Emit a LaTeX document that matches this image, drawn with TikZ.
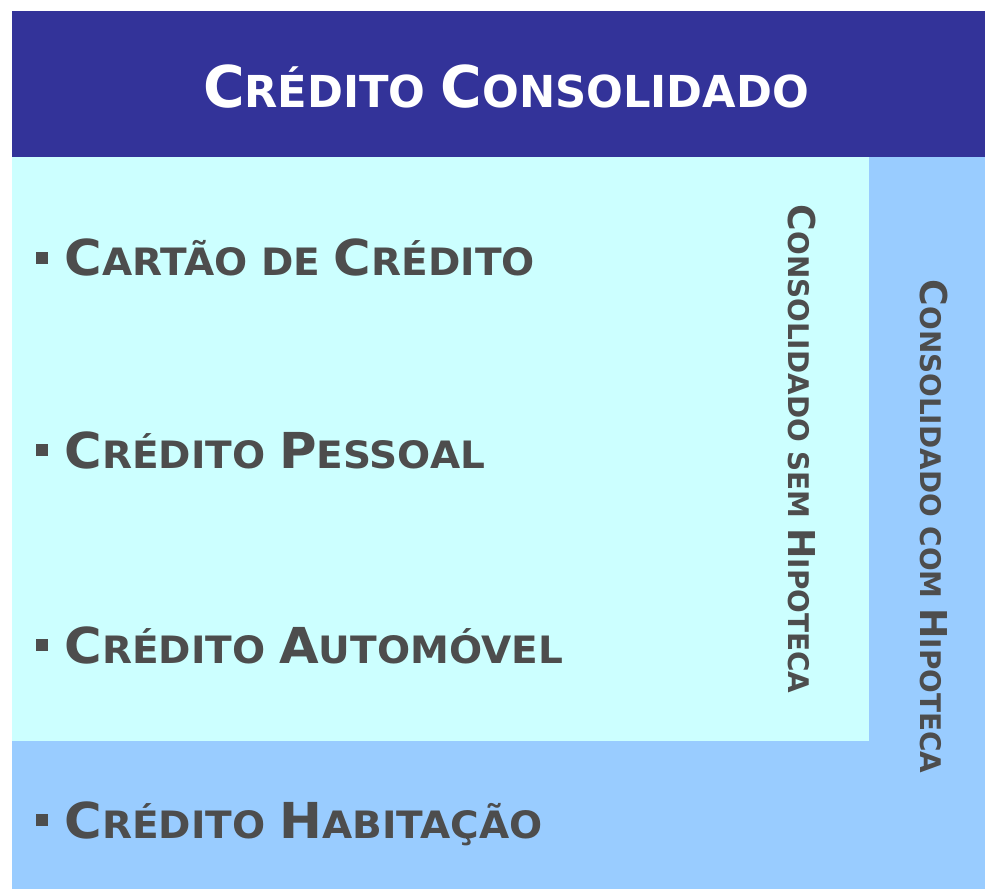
\documentclass[tikz,border=0pt]{standalone}
\usepackage{fontspec}
\usepackage{graphicx}
\setmainfont{DejaVu Sans}
\definecolor{hdr}{HTML}{333399}
\definecolor{cyanbg}{HTML}{CCFFFF}
\definecolor{bluebg}{HTML}{99CCFF}
\definecolor{txt}{HTML}{4D4D4D}
\newcommand\capL[1]{{\fontsize{49.5}{50}\selectfont #1}}
\newcommand\capS[1]{{\fontsize{37.7}{40}\selectfont #1}}
\newcommand\hL[1]{{\fontsize{57.6}{58}\selectfont #1}}
\newcommand\hS[1]{{\fontsize{44}{44}\selectfont #1}}
\newcommand\vL[1]{{\fontsize{37}{37}\selectfont #1}}
\newcommand\vS[1]{{\fontsize{28.4}{29}\selectfont #1}}
\newcommand\itemtxt[1]{\scalebox{1.035}[1]{#1}}
\tikzset{
  item/.style={anchor=base west, inner sep=0pt, text=txt, font=\bfseries\fontsize{37.7}{40}\selectfont},
  vlabel/.style={rotate=-90, anchor=base west, inner sep=0pt, text=txt, font=\bfseries\fontsize{28.4}{29}\selectfont},
  bulletsq/.style={fill=txt, minimum size=12pt, inner sep=0pt, draw=none}
}
\begin{document}
\begin{tikzpicture}[x=1pt,y=-1pt]
\useasboundingbox (0,0) rectangle (985,889);
% backgrounds
\fill[bluebg] (12,157) rectangle (985,889);
\fill[cyanbg] (12,157) rectangle (869,741);
\fill[hdr] (12,11) rectangle (985,157);
% header title
\node[anchor=base, inner sep=0pt, text=white, font=\bfseries\fontsize{44}{44}\selectfont] (title) at (506,107)
  {\scalebox{0.983}[1]{\hL{C}\hS{RÉDITO} \hL{C}\hS{ONSOLIDADO}}};
% bullets
\node[bulletsq] (b1) at (42,257.5) {};
\node[bulletsq] (b2) at (42,450) {};
\node[bulletsq] (b3) at (42,645) {};
\node[bulletsq] (b4) at (42,819.5) {};
% items
\node[item] (i1) at (64.5,275.5) {\itemtxt{\capL{C}\capS{ARTÃO DE} \capL{C}\capS{RÉDITO}}};
\node[item] (i2) at (64.5,468) {\itemtxt{\capL{C}\capS{RÉDITO} \capL{P}\capS{ESSOAL}}};
\node[item] (i3) at (64.5,663) {\itemtxt{\capL{C}\capS{RÉDITO} \capL{A}\capS{UTOMÓVEL}}};
\node[item] (i4) at (64.5,838) {\itemtxt{\capL{C}\capS{RÉDITO} \capL{H}\capS{ABITAÇÃO}}};
% vertical labels
\node[vlabel] (v1) at (788,204.5) {\scalebox{0.982}[1]{\vL{C}\vS{ONSOLIDADO SEM} \vL{H}\vS{IPOTECA}}};
\node[vlabel] (v2) at (920,279.5) {\scalebox{0.982}[1]{\vL{C}\vS{ONSOLIDADO COM} \vL{H}\vS{IPOTECA}}};
\end{tikzpicture}
\end{document}
